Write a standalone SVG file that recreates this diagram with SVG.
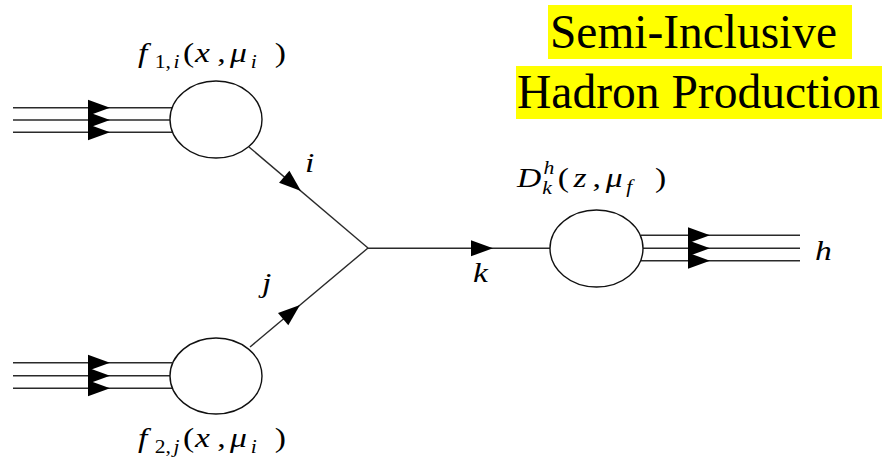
<svg xmlns="http://www.w3.org/2000/svg" width="884" height="463" viewBox="0 0 884 463">
<style>
.ln{stroke:#2a2a2a;stroke-width:1.4;fill:none}
.bl{fill:#fff;stroke:#111;stroke-width:1.4}
.m{font-size:28px;font-style:italic;fill:#000}
.r{font-style:normal}
.s{font-size:18px}
.t{font-size:48px;fill:#000}
.hl{fill:#ffff00}
.f{font-family:'Liberation Serif','Times New Roman',Tinos,'Nimbus Roman','FreeSerif','Noto Serif','DejaVu Serif',serif}
</style>
<defs>
<path id="ah" d="M-22,-8 L0,0 L-22,8 Z" fill="#000"/>
</defs>
<rect width="884" height="463" fill="#fff"/>
<g id="title" class="f">
<rect class="hl" x="548" y="5" width="304" height="54"/>
<rect class="hl" x="516" y="66" width="366" height="53"/>
<text class="t" x="550" y="48" textLength="287" lengthAdjust="spacingAndGlyphs">Semi-Inclusive</text>
<text class="t" x="517" y="108" textLength="363" lengthAdjust="spacingAndGlyphs">Hadron Production</text>
</g>
<g id="connectors">
<line class="ln" x1="13" y1="107.7" x2="172" y2="107.7"/>
<line class="ln" x1="13" y1="120" x2="170" y2="120"/>
<line class="ln" x1="13" y1="132.3" x2="172" y2="132.3"/>
<use href="#ah" x="110" y="107.7"/>
<use href="#ah" x="110" y="120"/>
<use href="#ah" x="110" y="132.3"/>
<line class="ln" x1="13" y1="362.7" x2="172" y2="362.7"/>
<line class="ln" x1="13" y1="375.7" x2="170" y2="375.7"/>
<line class="ln" x1="13" y1="388.3" x2="172" y2="388.3"/>
<use href="#ah" x="110" y="362.7"/>
<use href="#ah" x="110" y="375.7"/>
<use href="#ah" x="110" y="388.3"/>
<line class="ln" x1="249" y1="147" x2="368" y2="248"/>
<use href="#ah" transform="translate(301,191) rotate(40.3)"/>
<line class="ln" x1="250" y1="347" x2="368" y2="248"/>
<use href="#ah" transform="translate(300,305) rotate(-40)"/>
<line class="ln" x1="368" y1="248.3" x2="550" y2="248.3"/>
<use href="#ah" x="493" y="248.3"/>
<line class="ln" x1="641" y1="235.3" x2="800" y2="235.3"/>
<line class="ln" x1="643" y1="248.3" x2="800" y2="248.3"/>
<line class="ln" x1="641" y1="260.7" x2="800" y2="260.7"/>
<use href="#ah" x="710" y="235.3"/>
<use href="#ah" x="710" y="248.3"/>
<use href="#ah" x="710" y="260.7"/>
</g>
<g id="pdf1">
<ellipse class="bl" cx="216" cy="119.5" rx="46" ry="38.5"/>
<text class="m f" transform="matrix(1.2,0,0,1,138,62)"><tspan x="0">f</tspan><tspan class="s r" x="14" dy="6">1,</tspan><tspan class="s" x="29.5">i</tspan><tspan class="r" x="37.5" dy="-6">(</tspan><tspan x="47.5">x</tspan><tspan class="r" x="66">,</tspan><tspan x="76.7">μ</tspan><tspan class="s" x="94" dy="6">i</tspan><tspan class="r" x="114" dy="-6">)</tspan></text>
</g>
<g id="pdf2">
<ellipse class="bl" cx="216" cy="376" rx="46" ry="38"/>
<text class="m f" transform="matrix(1.2,0,0,1,138,447)"><tspan x="0">f</tspan><tspan class="s r" x="14" dy="6">2,</tspan><tspan class="s" x="29.5">j</tspan><tspan class="r" x="37.5" dy="-6">(</tspan><tspan x="47.5">x</tspan><tspan class="r" x="66">,</tspan><tspan x="76.7">μ</tspan><tspan class="s" x="94" dy="6">i</tspan><tspan class="r" x="114" dy="-6">)</tspan></text>
</g>
<g id="ff">
<ellipse class="bl" cx="596.5" cy="248.5" rx="46.5" ry="38.5"/>
<text class="m f" transform="matrix(1.2,0,0,1,517,187)"><tspan x="0">D</tspan><tspan class="s" x="22" dy="-13">h</tspan><tspan class="s" x="21" dy="20">k</tspan><tspan class="r" x="34" dy="-7">(</tspan><tspan x="47">z</tspan><tspan class="r" x="63">,</tspan><tspan x="74">μ</tspan><tspan class="s" x="91" dy="6">f</tspan><tspan class="r" x="115" dy="-6">)</tspan></text>
</g>
<g id="labels" class="f">
<text class="m" transform="matrix(1.2,0,0,1,305,172)">i</text>
<text class="m" transform="matrix(1.2,0,0,1,262,292)">j</text>
<text class="m" transform="matrix(1.2,0,0,1,473,282)">k</text>
<text class="m" transform="matrix(1.2,0,0,1,815,260)">h</text>
</g>
</svg>
